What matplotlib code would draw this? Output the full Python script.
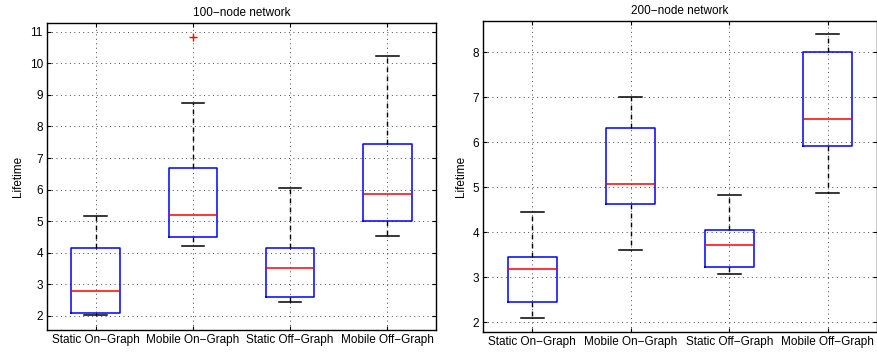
import matplotlib
matplotlib.use("Agg")
import matplotlib.pyplot as plt

plt.rcParams['font.family'] = ['Liberation Sans', 'DejaVu Sans']
plt.rcParams['font.size'] = 8.5

# categories shared by both panels
labels = ["Static On\u2212Graph", "Mobile On\u2212Graph", "Static Off\u2212Graph", "Mobile Off\u2212Graph"]

# 100-node network: whisker low, q1, median, q3, whisker high, outliers
lo_100 = [2.01, 4.22, 2.45, 4.535]
q1_100 = [2.095, 4.49, 2.60, 4.99]
med_100 = [2.79, 5.21, 3.53, 5.87]
q3_100 = [4.155, 6.69, 4.155, 7.45]
hi_100 = [5.16, 8.73, 6.06, 10.24]
out_100 = [[], [10.83], [], []]

# 200-node network
lo_200 = [2.10, 3.605, 3.07, 4.87]
q1_200 = [2.45, 4.634, 3.235, 5.91]
med_200 = [3.18, 5.078, 3.72, 6.53]
q3_200 = [3.46, 6.33, 4.05, 8.02]
hi_200 = [4.456, 7.0, 4.83, 8.40]
out_200 = [[], [], [], []]


def make_stats(lo, q1, med, q3, hi, out):
    stats = []
    for i in range(len(labels)):
        stats.append(dict(whislo=lo[i], q1=q1[i], med=med[i], q3=q3[i],
                          whishi=hi[i], fliers=out[i], label=labels[i]))
    return stats


def draw(ax, stats, title, ylim, yticks):
    ax.bxp(stats, positions=[1, 2, 3, 4], widths=0.5, capwidths=0.23,
           showfliers=True,
           boxprops=dict(color="blue", linewidth=1.1),
           medianprops=dict(color="red", linewidth=1.1),
           whiskerprops=dict(color="black", linewidth=1.0, linestyle=(0, (3.5, 3))),
           capprops=dict(color="black", linewidth=1.1),
           flierprops=dict(marker="+", markeredgecolor="red", markersize=6, linestyle="none"))
    ax.set_xlim(0.5, 4.5)
    ax.set_ylim(*ylim)
    ax.set_yticks(yticks)
    ax.set_xticks([1, 2, 3, 4])
    ax.set_xticklabels(labels)
    ax.set_title(title, fontsize=8.5, pad=5)
    ax.set_ylabel("Lifetime")
    ax.grid(True, linestyle=(0, (1, 3.6)), color="#444444", linewidth=0.7)
    ax.set_axisbelow(True)
    ax.tick_params(direction="in", top=True, right=True, length=3, pad=3)
    for s in ax.spines.values():
        s.set_linewidth(1.0)


fig = plt.figure(figsize=(8.78, 3.53), dpi=100)
ax1 = fig.add_axes([47 / 878, 1 - 330 / 353, 389 / 878, 307 / 353])
ax2 = fig.add_axes([483 / 878, 1 - 332 / 353, 394 / 878, 311 / 353])

draw(ax1, make_stats(lo_100, q1_100, med_100, q3_100, hi_100, out_100),
     "100\u2212node network", (1.55, 11.28), range(2, 12))
draw(ax2, make_stats(lo_200, q1_200, med_200, q3_200, hi_200, out_200),
     "200\u2212node network", (1.785, 8.70), range(2, 9))

fig.savefig("out.png", dpi=100)
